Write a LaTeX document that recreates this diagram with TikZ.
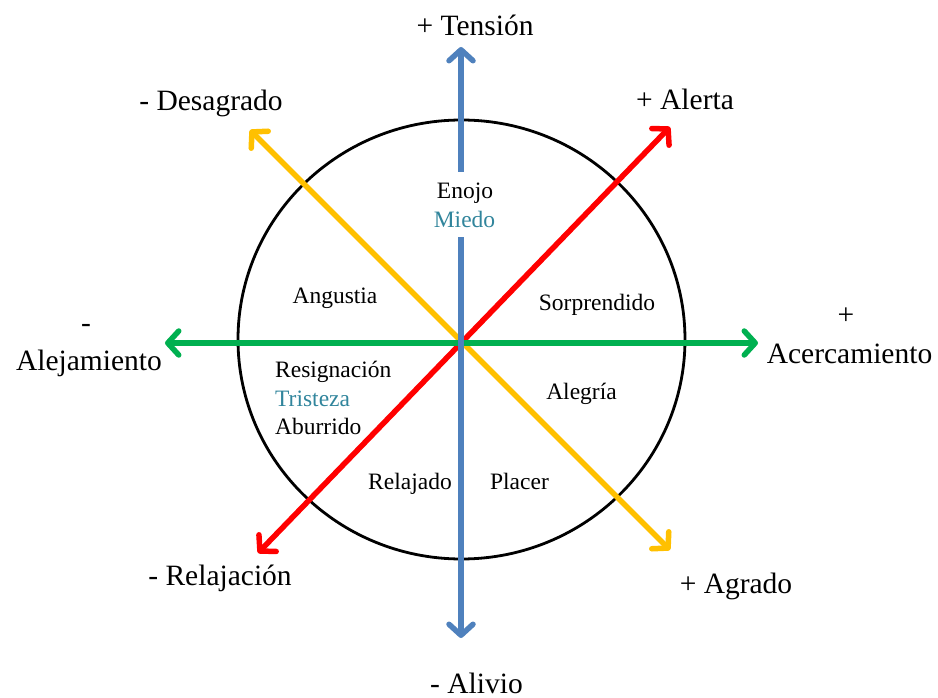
\documentclass[tikz,border=0pt]{standalone}
\usepackage{fontspec}
\setmainfont{Liberation Serif}
\usetikzlibrary{arrows.meta,shapes.geometric}
\definecolor{axblue}{RGB}{79,129,189}
\definecolor{axgreen}{RGB}{0,176,80}
\definecolor{axred}{RGB}{255,0,0}
\definecolor{axyellow}{RGB}{255,192,0}
\definecolor{tealtxt}{RGB}{49,133,156}
\tikzset{
  axisline/.style={line width=5.5pt, line cap=round, >={Straight Barb[length=11pt,width=24pt,round,line width=5.5pt]}, <->},
  outer/.style={anchor=base, inner sep=0pt, font=\fontsize{29.5}{34}\selectfont},
  inner/.style={anchor=base, inner sep=0pt, font=\fontsize{23.5}{28}\selectfont},
  innerleft/.style={inner, anchor=base west},
}
\begin{document}
\begin{tikzpicture}[x=1pt,y=-1pt]
\useasboundingbox (0,0) rectangle (938,698);
% circle
\node[draw=black, line width=2.8pt, ellipse, minimum width=447pt, minimum height=439pt, inner sep=0pt] (circ) at (461.5,339.5) {};
% arrow end points
\coordinate (c) at (461,343);
\coordinate (bN) at (461,47);
\coordinate (bS) at (461,638);
\coordinate (gW) at (165,343);
\coordinate (gE) at (758,343);
\coordinate (rNE) at (670,127);
\coordinate (rSW) at (258,553);
\coordinate (yNW) at (250,130);
\coordinate (ySE) at (670,550);
% axes
\draw[axisline, draw=axyellow] (yNW) -- (ySE);
\draw[axisline, draw=axred] (rSW) -- (rNE);
\draw[axisline, draw=axgreen] (gW) -- (gE);
\draw[axisline, draw=axblue] (bS) -- (bN);
% gap behind Enojo / Miedo
\node[fill=white, minimum width=62pt, minimum height=65pt, inner sep=0pt] (gap) at (464.5,204.5) {};
% outer labels
\node[outer] (tension) at (475,36) {+ Tensión};
\node[outer] (desagrado) at (211,111) {- Desagrado};
\node[outer] (alerta) at (685,110) {+ Alerta};
\node[outer] (minusA) at (86,332) {-};
\node[outer] (alejamiento) at (89,370) {Alejamiento};
\node[outer] (plusA) at (846,324) {+};
\node[outer] (acercamiento) at (849.5,363) {Acercamiento};
\node[outer] (relajacion) at (220,585) {- Relajación};
\node[outer] (agrado) at (736,593) {+ Agrado};
\node[outer] (alivio) at (476.5,693) {- Alivio};
% inner labels
\node[inner] (enojo) at (465,199) {Enojo};
\node[inner, text=tealtxt] (miedo) at (464.5,227) {Miedo};
\node[inner] (angustia) at (335,303) {Angustia};
\node[inner] (sorprendido) at (597,310) {Sorprendido};
\node[innerleft] (resignacion) at (275,377) {Resignación};
\node[innerleft, text=tealtxt] (tristeza) at (275,406) {Tristeza};
\node[innerleft] (aburrido) at (275,434) {Aburrido};
\node[inner] (alegria) at (581.5,399) {Alegría};
\node[inner] (relajado) at (410,489) {Relajado};
\node[inner] (placer) at (519.5,489) {Placer};
\end{tikzpicture}
\end{document}
